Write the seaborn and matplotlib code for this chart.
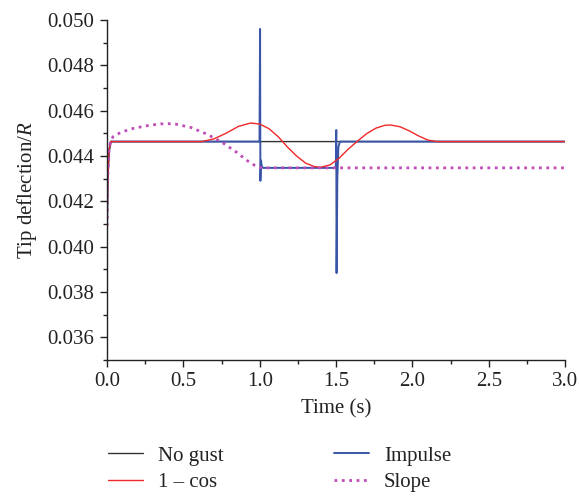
import numpy as np
import pandas as pd
import matplotlib
matplotlib.use("Agg")
import matplotlib.pyplot as plt
import seaborn as sns
from matplotlib.ticker import MultipleLocator, FormatStrFormatter

# ---- data ----
no_gust_t = [0.0, 0.004, 0.012, 0.024, 0.04, 3.0]
no_gust_y = [0.0409, 0.0430, 0.0442, 0.04463, 0.04463, 0.04463]

cos_t = [0.0, 0.004, 0.012, 0.024, 0.04, 0.62, 0.70, 0.78, 0.86, 0.94, 1.00, 1.06,
         1.12, 1.18, 1.24, 1.30, 1.36, 1.40, 1.46, 1.52, 1.58, 1.64, 1.70, 1.76,
         1.82, 1.86, 1.92, 1.98, 2.04, 2.10, 2.16, 3.0]
cos_y = [0.0409, 0.0430, 0.0442, 0.04463, 0.04463, 0.04463, 0.04475, 0.04500, 0.04530,
         0.04545, 0.04540, 0.04520, 0.04485, 0.04440, 0.04400, 0.04368, 0.04352,
         0.04350, 0.04360, 0.04390, 0.04430, 0.04465, 0.04498, 0.04522, 0.04535,
         0.04536, 0.04528, 0.04510, 0.04488, 0.04470, 0.04463, 0.04463]

imp_t = [0.0, 0.004, 0.012, 0.024, 0.04, 0.998, 1.002, 1.004, 1.008, 1.013, 1.02,
         1.498, 1.501, 1.503, 1.508, 1.515, 1.525, 3.0]
imp_y = [0.0409, 0.0430, 0.0442, 0.04463, 0.04463, 0.04463, 0.0496, 0.0429, 0.0438,
         0.04355, 0.04347, 0.04347, 0.04514, 0.03883, 0.0430, 0.0444, 0.04463, 0.04463]

slope_t = [0.0, 0.004, 0.012, 0.024, 0.04, 0.08, 0.15, 0.25, 0.35, 0.40, 0.45, 0.55,
           0.65, 0.75, 0.85, 0.92, 0.98, 1.02, 3.0]
slope_y = [0.0409, 0.0430, 0.0442, 0.0447, 0.04485, 0.04500, 0.04518, 0.04532, 0.04541,
           0.04542, 0.04540, 0.04525, 0.04497, 0.04461, 0.04415, 0.04378, 0.04352,
           0.04347, 0.04347]

x_ticks = [0.0, 0.5, 1.0, 1.5, 2.0, 2.5, 3.0]
y_ticks = [0.036, 0.038, 0.040, 0.042, 0.044, 0.046, 0.048, 0.050]

sns.set_style("ticks")
plt.rcParams['font.family'] = ['Liberation Serif', 'DejaVu Serif']
plt.rcParams['mathtext.fontset'] = 'custom'
plt.rcParams['mathtext.it'] = 'Liberation Serif:italic'
plt.rcParams['mathtext.rm'] = 'Liberation Serif'

fig = plt.figure(figsize=(5.79, 4.97), dpi=100)
ax = fig.add_axes([0.185, 0.276, 0.791, 0.684])

series = [
    ("No gust", no_gust_t, no_gust_y, "#333333", "-", 1.0),
    ("Impulse", imp_t, imp_y, "#3a55a8", "-", 1.4),
    ("1 \u2013 cos", cos_t, cos_y, "#f02828", "-", 1.0),
    ("Slope", slope_t, slope_y, "#c04cb8", ":", 2.0),
]
for name, t, y, c, ls, lw in series:
    df = pd.DataFrame({"t": t, "y": y})
    sns.lineplot(data=df, x="t", y="y", ax=ax, color=c, linestyle=ls, linewidth=lw,
                 estimator=None, sort=False, label=name)

ax.set_xlim(0, 3.0)
ax.set_ylim(0.035, 0.050)
ax.set_xticks(x_ticks)
ax.set_yticks(y_ticks)
ax.xaxis.set_minor_locator(MultipleLocator(0.25))
ax.yaxis.set_minor_locator(MultipleLocator(0.001))
ax.xaxis.set_major_formatter(FormatStrFormatter('%.1f'))
ax.yaxis.set_major_formatter(FormatStrFormatter('%.3f'))
ax.tick_params(axis='both', which='major', labelsize=15, length=5, width=1,
               direction='out', color='#222222', labelcolor='#222222', pad=4)
ax.tick_params(axis='both', which='minor', length=3, width=1, direction='out', color='#222222')
for s in ['left', 'bottom']:
    ax.spines[s].set_linewidth(1.0)
    ax.spines[s].set_color('#222222')
sns.despine(ax=ax)
ax.set_xlabel("Time (s)", fontsize=15, labelpad=6, color='#222222')
ax.set_ylabel("Tip deflection/$R$", fontsize=15, labelpad=6, color='#222222')

h, l = ax.get_legend_handles_labels()
order = [l.index("No gust"), l.index("1 \u2013 cos"), l.index("Impulse"), l.index("Slope")]
ax.legend_.remove()
leg = fig.legend([h[i] for i in order], [l[i] for i in order], ncol=2, frameon=False,
                 loc='upper left', bbox_to_anchor=(108 / 579, 1 - 446 / 497), fontsize=15,
                 handlelength=1.7, columnspacing=5.3, labelspacing=0.35, handletextpad=0.7,
                 borderpad=0, borderaxespad=0)
for t in leg.get_texts():
    t.set_color('#222222')

fig.savefig("out.png", dpi=100)
